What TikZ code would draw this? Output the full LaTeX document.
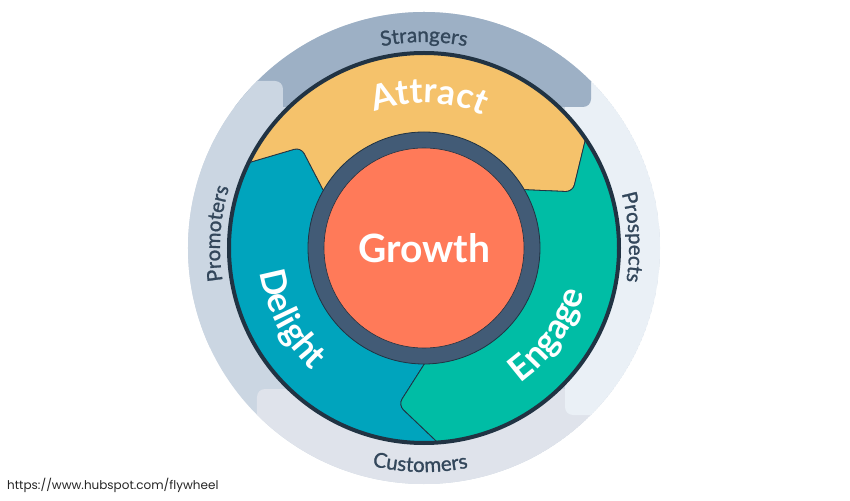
\documentclass[tikz,border=0pt]{standalone}
\usepackage{fontspec}
\setmainfont{Lato}
\newfontfamily\urlfont{Poppins}
\newfontfamily\bandff{Lato}[FakeBold=1.2]
\usetikzlibrary{decorations.text}
\definecolor{strangers}{HTML}{9DB0C5}
\definecolor{promoters}{HTML}{CBD6E2}
\definecolor{customers}{HTML}{DFE3EB}
\definecolor{prospects}{HTML}{EAF0F6}
\definecolor{labelc}{HTML}{33475B}
\definecolor{darkc}{HTML}{213343}
\definecolor{attractc}{HTML}{F5C26B}
\definecolor{engagec}{HTML}{00BDA5}
\definecolor{delightc}{HTML}{00A4BD}
\definecolor{growthc}{HTML}{FF7A59}
\definecolor{slatec}{HTML}{425B76}
\newcommand\bandfont{\bandff\fontsize{20.5}{20.5}\selectfont\color{labelc}}
\newcommand\stagefont{\fontsize{35}{35}\selectfont\bfseries\color{white}}
\tikzset{
  bandlabel/.style={decorate, decoration={text along path, text align=center}},
  sectorfill/.style={draw=darkc, line width=0.8pt, rounded corners=7pt}
}
\begin{document}
\begin{tikzpicture}[x=1pt,y=1pt]
\useasboundingbox (-424,-252) rectangle (426,248);
\fill[white] (-424,-252) rectangle (426,248);
% outer bands
\begin{scope}
  \clip (0,0) circle (236);
  \fill[promoters] (0,0) circle (236);
  \fill[customers, rounded corners=8pt] (-167,-141) rectangle (400,-400);
  \fill[prospects, rounded corners=8pt] (141,-167) rectangle (400,400);
  \fill[strangers, rounded corners=8pt] (-400,141) rectangle (167,400);
  \fill[promoters, rounded corners=8pt] (-400,-100) rectangle (-141,167);
\end{scope}
% stage sectors
\begin{scope}
  \clip (0,0) circle (195);
  \foreach \ang/\col in {0/delightc, -120/attractc, 120/engagec} {
    \fill[\col, sectorfill, rotate=\ang] (0,0) -- (157.6:97.2) -- (140.7:159) -- (159.1:216.8) -- (160:400) -- (220:400) -- (279:400) -- (279.1:216.8) -- (260.7:159) -- (277.6:97.2) -- cycle;
  }
\end{scope}
\draw[darkc, line width=4pt] (0,0) circle (195);
\fill[slatec, draw=darkc, line width=0.8pt] (0,0) circle (116);
\fill[growthc, draw=darkc, line width=0.6pt] (0,0) circle (100);
\node[font=\fontsize{39}{39}\selectfont\bfseries, text=white] (growth) at (0,0) {Growth};
% band labels
\path[bandlabel, decoration={text={|\bandfont|Strangers}}] (150:206) arc(150:30:206);
\path[bandlabel, decoration={text={|\bandfont|Prospects}}] (63:205) arc(63:-57:205);
\path[bandlabel, decoration={text={|\bandfont|Customers}}] (209:224) arc(209:329:224);
\path[bandlabel, decoration={text={|\bandfont|Promoters}}] (236:204) arc(236:116:204);
% stage labels
\path[bandlabel, decoration={text={|\stagefont|Attract}}] (148:145) arc(148:28:145);
\path[bandlabel, decoration={text={|\stagefont|Delight}}] (148:166) arc(148:268:166);
\path[bandlabel, decoration={text={|\stagefont|Engage}}] (-95:166) arc(-95:25:166);
\node[anchor=west, inner sep=0pt, font=\urlfont\fontsize{12}{12}\selectfont, text=black!85] (url) at (-417,-237) {https://www.hubspot.com/flywheel};
\end{tikzpicture}
\end{document}
